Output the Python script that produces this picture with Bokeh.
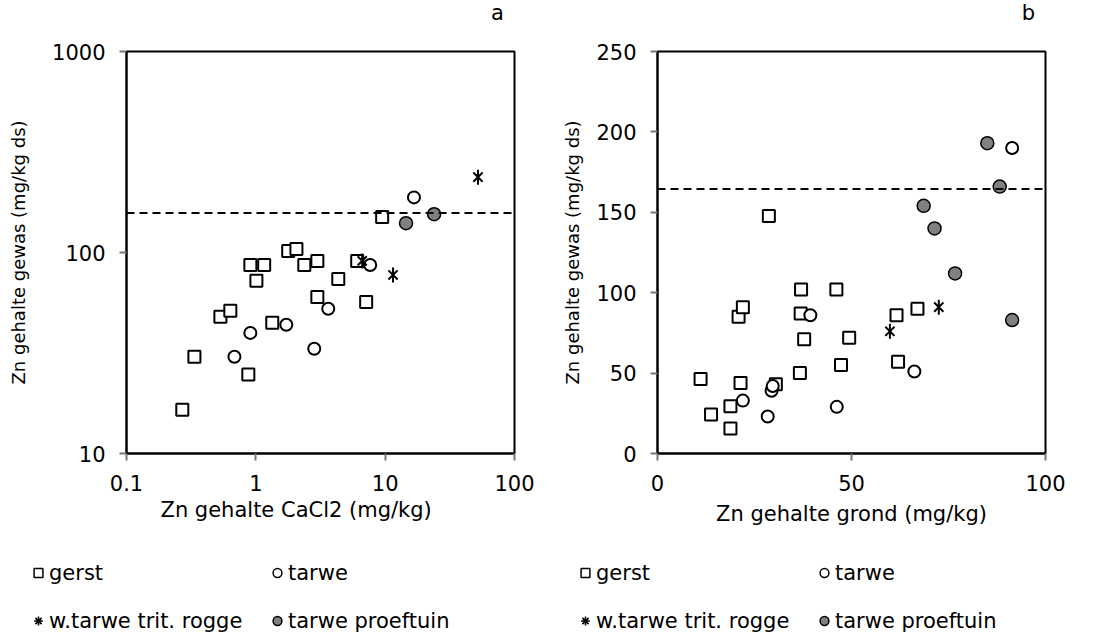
import math
from bokeh.plotting import figure
from bokeh.models import (Range1d, FixedTicker, NumeralTickFormatter, Span, Legend,
                          LegendItem, Title, Label)
from bokeh.layouts import row, column
from bokeh.embed import file_html
from bokeh.resources import INLINE

# ---------------- data: panel a (log-log) ----------------
a_gerst_x = [0.27, 0.335, 0.875, 0.532, 0.635, 1.34, 0.907, 1.16, 1.01, 1.78, 2.06, 2.37,
             2.99, 2.99, 4.34, 6.08, 7.13, 9.48]
a_gerst_y = [16.5, 30.3, 24.7, 47.9, 51.3, 44.7, 86.7, 86.7, 72.3, 101.7, 104, 86.7,
             90.8, 60.1, 73.8, 90.8, 56.8, 150]
a_tarwe_x = [0.683, 0.907, 1.72, 2.83, 3.63, 7.66, 16.7]
a_tarwe_y = [30.3, 39.8, 43.7, 33.2, 52.5, 86.7, 188]
a_wtarwe_x = [6.64, 11.5, 52.2]
a_wtarwe_y = [90.8, 77.3, 237]
a_proef_x = [14.5, 23.9]
a_proef_y = [140, 155]
a_threshold = 157

# ---------------- data: panel b (linear) ----------------
b_gerst_x = [11.1, 13.8, 18.8, 18.8, 21.4, 20.9, 22.0, 28.7, 30.5, 37.0, 36.9, 36.7, 37.8,
             46.1, 47.3, 49.4, 61.6, 62.0, 67.0]
b_gerst_y = [46.3, 24.2, 15.6, 29.4, 43.8, 85, 91, 147.7, 43, 102, 87, 50, 71,
             102, 55, 72, 86, 57, 90]
b_tarwe_x = [22.0, 28.4, 29.4, 29.7, 39.4, 46.2, 66.2, 91.4]
b_tarwe_y = [32.9, 23, 39, 42, 86, 29, 51, 190]
b_wtarwe_x = [59.9, 72.5]
b_wtarwe_y = [76, 91]
b_proef_x = [68.6, 71.4, 76.7, 85.0, 88.2, 91.4]
b_proef_y = [154, 140, 112, 193, 166, 83]
b_threshold = 164.5

labels = ["gerst", "tarwe", "w.tarwe trit. rogge", "tarwe proeftuin"]
a_xticks = [0.1, 1, 10, 100]
a_yticks = [10, 100, 1000]
b_xticks = [0, 50, 100]
b_yticks = [0, 50, 100, 150, 200, 250]

FONT = "DejaVu Sans"
FS = "21px"
FS_V = "18px"


def style(p):
    p.background_fill_color = "white"
    p.border_fill_color = "white"
    p.outline_line_color = "black"
    p.outline_line_width = 2
    p.xgrid.visible = False
    p.ygrid.visible = False
    for ax in (p.xaxis, p.yaxis):
        ax.axis_line_color = "black"
        ax.axis_line_width = 2
        ax.major_tick_out = 7
        ax.major_tick_in = 0
        ax.major_tick_line_color = "#777777"
        ax.major_tick_line_width = 2
        ax.minor_tick_line_color = None
        ax.major_label_text_font = FONT
        ax.major_label_text_font_size = FS
        ax.major_label_text_color = "black"
        ax.axis_label_text_font = FONT
        ax.axis_label_text_font_size = FS
        ax.axis_label_text_font_style = "normal"
        ax.axis_label_text_color = "black"
    p.yaxis.axis_label_text_font_size = FS_V
    p.xaxis.major_label_standoff = 14
    p.yaxis.major_label_standoff = 14
    p.xaxis.axis_label_standoff = 8


def draw(p, gx, gy, tx, ty, wx, wy, px, py):
    p.scatter(gx, gy, marker="square", size=12, fill_color="white",
              line_color="black", line_width=2)
    p.scatter(tx, ty, marker="circle", size=12, fill_color="white",
              line_color="black", line_width=2)
    p.scatter(wx, wy, marker="x", size=13, line_color="black", line_width=2)
    p.scatter(wx, wy, marker="dash", angle=math.pi / 2, size=15,
              line_color="black", line_width=2)
    p.scatter(px, py, marker="circle", size=13, fill_color="#808080",
              line_color="black", line_width=1.5)


def blank(width, height):
    f = figure(width=width, height=height, x_range=Range1d(-2, -1), y_range=Range1d(-2, -1),
               output_backend="svg", toolbar_location=None,
               x_axis_location=None, y_axis_location=None,
               min_border=0, outline_line_color=None)
    f.xgrid.visible = False
    f.ygrid.visible = False
    return f


def legend_fig(width, loc, gx, gy, tx, ty, wx, wy, px, py):
    # legend strip; its renderers hold the panel's data but the strip's ranges
    # keep them out of view, so only the legend shows
    f = blank(width, 110)
    r1 = f.scatter(gx, gy, marker="square", fill_color="white",
                   line_color="black", line_width=1.5)
    r2 = f.scatter(tx, ty, marker="circle", fill_color="white",
                   line_color="black", line_width=1.5)
    r3 = f.scatter(wx, wy, marker="asterisk", line_color="black", line_width=1.5)
    r4 = f.scatter(px, py, marker="circle", fill_color="#808080",
                   line_color="black", line_width=1.5)
    items = [LegendItem(label=l, renderers=[r]) for l, r in zip(labels, [r1, r2, r3, r4])]
    leg = Legend(items=items, location=loc, orientation="horizontal", ncols=2,
                 glyph_width=22, glyph_height=25, label_height=25, label_width=194,
                 spacing=23, label_standoff=0, padding=0, margin=0,
                 border_line_color=None, background_fill_alpha=0,
                 label_text_font=FONT, label_text_font_size=FS,
                 label_text_color="black")
    f.add_layout(leg)
    return f


def corner_fig(width, txt, xpos):
    f = blank(width, 24)
    f.add_layout(Label(x=xpos, y=12, x_units="screen", y_units="screen", text=txt,
                       text_align="center", text_baseline="middle",
                       text_font=FONT, text_font_size=FS, text_color="black"))
    return f


# ---------------- panel a ----------------
pa = figure(width=545, height=509, x_axis_type="log", y_axis_type="log",
            x_range=Range1d(0.1, 100), y_range=Range1d(10, 1000),
            output_backend="svg", toolbar_location=None,
            min_border_left=126, min_border_right=31, min_border_top=27,
            min_border_bottom=80)
style(pa)
pa.xaxis.ticker = FixedTicker(ticks=a_xticks)
pa.yaxis.ticker = FixedTicker(ticks=a_yticks)
pa.xaxis.formatter = NumeralTickFormatter(format="0.[0]")
pa.yaxis.formatter = NumeralTickFormatter(format="0")
pa.yaxis.axis_label = "Zn gehalte gewas (mg/kg ds)"
pa.yaxis.axis_label_standoff = 20
pa.add_layout(Title(text="Zn gehalte CaCl2 (mg/kg)", align="left", offset=34,
                    standoff=4, text_font=FONT, text_font_size=FS,
                    text_font_style="normal", text_color="black"), "below")
pa.add_layout(Span(location=a_threshold, dimension="width", line_color="black",
                   line_width=2, line_dash="8 5"))
draw(pa, a_gerst_x, a_gerst_y, a_tarwe_x, a_tarwe_y,
     a_wtarwe_x, a_wtarwe_y, a_proef_x, a_proef_y)

# ---------------- panel b ----------------
pb = figure(width=550, height=509,
            x_range=Range1d(0, 100), y_range=Range1d(0, 250),
            output_backend="svg", toolbar_location=None,
            min_border_left=112, min_border_right=50, min_border_top=25,
            min_border_bottom=79)
style(pb)
pb.xaxis.ticker = FixedTicker(ticks=b_xticks)
pb.yaxis.ticker = FixedTicker(ticks=b_yticks)
pb.xaxis.axis_label = "Zn gehalte grond (mg/kg)"
pb.yaxis.axis_label = "Zn gehalte gewas (mg/kg ds)"
pb.yaxis.axis_label_standoff = 10
pb.add_layout(Span(location=b_threshold, dimension="width", line_color="black",
                   line_width=2, line_dash="8 5"))
draw(pb, b_gerst_x, b_gerst_y, b_tarwe_x, b_tarwe_y,
     b_wtarwe_x, b_wtarwe_y, b_proef_x, b_proef_y)

sa = corner_fig(545, "a", 497)
sb = corner_fig(550, "b", 483)

la = legend_fig(545, (27, 10), a_gerst_x, a_gerst_y, a_tarwe_x, a_tarwe_y,
                a_wtarwe_x, a_wtarwe_y, a_proef_x, a_proef_y)
lb = legend_fig(550, (29, 10), b_gerst_x, b_gerst_y, b_tarwe_x, b_tarwe_y,
                b_wtarwe_x, b_wtarwe_y, b_proef_x, b_proef_y)

layout = column(row(sa, sb), row(pa, pb), row(la, lb), spacing=0)
open("out.html", "w").write(file_html(layout, INLINE))
